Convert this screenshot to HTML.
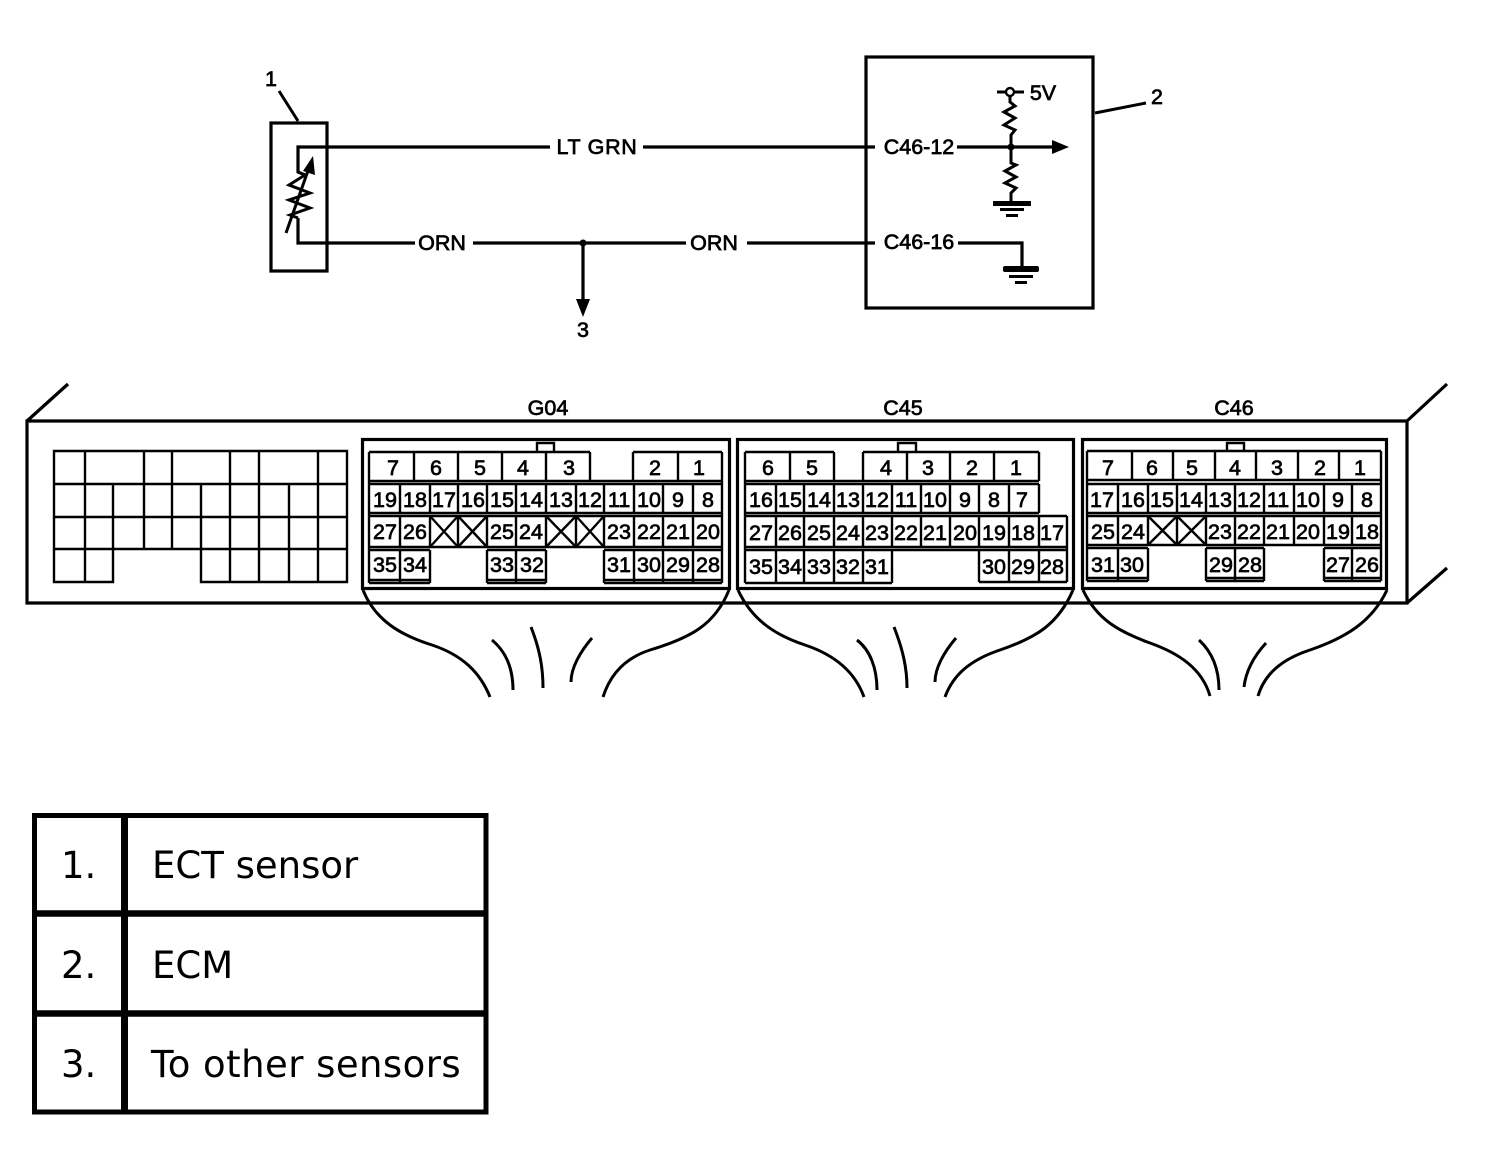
<!DOCTYPE html>
<html><head><meta charset="utf-8"><style>
html,body{margin:0;padding:0;background:#fff}
svg{display:block}
.t{font-family:"Liberation Sans",sans-serif;font-size:21.5px;fill:#000;stroke:#000;stroke-width:.7;text-anchor:middle}
.l{font-family:"DejaVu Sans",sans-serif;font-size:37px;fill:#000}
.s{fill:none;stroke:#000;stroke-width:3.2}
.c{fill:none;stroke:#000;stroke-width:2.4}
.w{fill:none;stroke:#000;stroke-width:3}
</style></head><body>
<svg width="1504" height="1176" viewBox="0 0 1504 1176" xmlns="http://www.w3.org/2000/svg">
<!-- schematic -->
<rect class="s" x="271" y="123" width="56" height="148"/>
<rect class="s" x="866" y="57" width="227" height="251"/>
<path class="w" d="M279 91L298 121M1095 113L1146 103"/>
<path class="s" d="M550 147H298V172L305 175M643 147H875M415 243H298V218M473 243H686M747 243H875M583 243V302M957 147H1055M958 243H1022V268"/>
<path class="w" d="M286 233L310 165M305 175L289 185L310 193L289 200L310 208L290 215L298 218"/>
<path d="M313 156L303 171L315 175Z" fill="#000"/>
<circle cx="583" cy="243" r="3.5" fill="#000"/>
<path d="M576 299H590L583 317Z" fill="#000"/>
<path class="w" d="M997 92H1024M1010 97V102L1015 106L1004 112L1015 118L1004 125L1015 130L1011 135V147M1011 147V163L1016 165L1005 171L1016 177L1005 183L1016 188L1011 193V202"/>
<circle cx="1010" cy="92" r="4" fill="#fff" stroke="#000" stroke-width="2.4"/>
<circle cx="1011" cy="147" r="3.5" fill="#000"/>
<path d="M1052 140L1069 147L1052 154Z" fill="#000"/>
<rect x="993" y="201" width="38" height="5" fill="#000"/><rect x="1000" y="208" width="24" height="3" fill="#000"/><rect x="1006" y="214" width="12" height="3" fill="#000"/>
<rect x="1003" y="266" width="36" height="6" rx="2" fill="#000"/><rect x="1009" y="275" width="24" height="3" fill="#000"/><rect x="1015" y="281" width="12" height="3" fill="#000"/>
<text class="t" x="271" y="86">1</text><text class="t" x="1157" y="104">2</text><text class="t" x="583" y="337">3</text>
<text class="t" x="597" y="154" style="letter-spacing:.7px">LT GRN</text><text class="t" x="442" y="250">ORN</text><text class="t" x="714" y="250">ORN</text>
<text class="t" x="919" y="154">C46-12</text><text class="t" x="919" y="249">C46-16</text><text class="t" x="1043" y="100">5V</text>
<!-- housing -->
<path class="s" d="M27 603V421H1407V603ZM27 421L68 384M1407 421L1447 384M1407 603L1447 568"/>
<path class="c" d="M54 451H347V582H201V549H113V582H54ZM54 484H347M54 517H347M54 549H347M85 451V582M113 484V582M144 451V549M172 451V549M201 484V582M230 451V582M259 451V582M289 484V582M318 451V582"/>
<text class="t" x="548" y="415">G04</text><text class="t" x="903" y="415">C45</text><text class="t" x="1234" y="415">C46</text>
<rect class="s" x="362.500" y="439.500" width="367" height="149"/>
<rect class="s" x="737.500" y="439.500" width="336" height="149"/>
<rect class="s" x="1082.500" y="439.500" width="304" height="149"/>
<!-- G04 -->
<path class="c" d="M537 452V443H554V452"/>
<path class="c" d="M369 452H590M633 452H722M369 481H722M369 484H722M369 513H722M369 516H722M369 547H722M369 550H430M487 550H546M604 550H722M369 580H430M369 583H430M487 580H546M487 583H546M604 580H722M604 583H722"/>
<path class="c" d="M369 452V583M414 452V481M458 452V481M502 452V481M546 452V481M590 452V481M633 452V481M678 452V481M722 452V583M400 484V513M430 484V513M458 484V513M487 484V513M516 484V513M546 484V513M576 484V513M604 484V513M634 484V513M663 484V513M693 484V513M400 516V547M430 516V547M458 516V547M487 516V547M516 516V547M546 516V547M576 516V547M604 516V547M634 516V547M663 516V547M693 516V547M400 550V583M430 550V583M487 550V583M516 550V583M546 550V583M604 550V583M634 550V583M663 550V583M693 550V583"/>
<path class="c" d="M430 516L458 547M458 516L430 547M458 516L487 547M487 516L458 547M546 516L576 547M576 516L546 547M576 516L604 547M604 516L576 547"/>
<g class="t"><text class="t" x="393" y="475">7</text><text class="t" x="436" y="475">6</text><text class="t" x="480" y="475">5</text><text class="t" x="523" y="475">4</text><text class="t" x="569" y="475">3</text><text class="t" x="655" y="475">2</text><text class="t" x="699" y="475">1</text>
<text class="t" x="385" y="507">19</text><text class="t" x="415" y="507">18</text><text class="t" x="444" y="507">17</text><text class="t" x="473" y="507">16</text><text class="t" x="502" y="507">15</text><text class="t" x="531" y="507">14</text><text class="t" x="561" y="507">13</text><text class="t" x="590" y="507">12</text><text class="t" x="619" y="507">11</text><text class="t" x="649" y="507">10</text><text class="t" x="678" y="507">9</text><text class="t" x="708" y="507">8</text>
<text class="t" x="385" y="539">27</text><text class="t" x="415" y="539">26</text><text class="t" x="502" y="539">25</text><text class="t" x="531" y="539">24</text><text class="t" x="619" y="539">23</text><text class="t" x="649" y="539">22</text><text class="t" x="678" y="539">21</text><text class="t" x="708" y="539">20</text>
<text class="t" x="385" y="572">35</text><text class="t" x="415" y="572">34</text><text class="t" x="502" y="572">33</text><text class="t" x="532" y="572">32</text><text class="t" x="619" y="572">31</text><text class="t" x="649" y="572">30</text><text class="t" x="678" y="572">29</text><text class="t" x="708" y="572">28</text></g>
<!-- C45 -->
<path class="c" d="M898 452V443H916V452"/>
<path class="c" d="M745 452H834M863 452H1039M745 481H1039M745 484H1039M745 513H1039M745 516H1067M745 547H1067M745 550H1067M745 583H892M979 582H1067"/>
<path class="c" d="M745 452V583M790 452V481M834 452V481M863 452V481M907 452V481M950 452V481M994 452V481M1039 452V481M776 484V513M804 484V513M834 484V513M863 484V513M892 484V513M921 484V513M950 484V513M979 484V513M1009 484V513M1039 484V513M776 516V547M804 516V547M834 516V547M863 516V547M892 516V547M921 516V547M950 516V547M979 516V547M1009 516V547M1039 516V547M1067 516V582M776 550V583M804 550V583M834 550V583M863 550V583M892 550V583M979 550V582M1009 550V582M1039 550V582"/>
<text class="t" x="768" y="475">6</text><text class="t" x="812" y="475">5</text><text class="t" x="886" y="475">4</text><text class="t" x="928" y="475">3</text><text class="t" x="972" y="475">2</text><text class="t" x="1016" y="475">1</text>
<text class="t" x="761" y="507">16</text><text class="t" x="790" y="507">15</text><text class="t" x="819" y="507">14</text><text class="t" x="848" y="507">13</text><text class="t" x="877" y="507">12</text><text class="t" x="906" y="507">11</text><text class="t" x="935" y="507">10</text><text class="t" x="965" y="507">9</text><text class="t" x="994" y="507">8</text><text class="t" x="1022" y="507">7</text>
<text class="t" x="761" y="540">27</text><text class="t" x="790" y="540">26</text><text class="t" x="819" y="540">25</text><text class="t" x="848" y="540">24</text><text class="t" x="877" y="540">23</text><text class="t" x="906" y="540">22</text><text class="t" x="935" y="540">21</text><text class="t" x="965" y="540">20</text><text class="t" x="994" y="540">19</text><text class="t" x="1023" y="540">18</text><text class="t" x="1052" y="540">17</text>
<text class="t" x="761" y="574">35</text><text class="t" x="790" y="574">34</text><text class="t" x="819" y="574">33</text><text class="t" x="848" y="574">32</text><text class="t" x="877" y="574">31</text><text class="t" x="994" y="574">30</text><text class="t" x="1023" y="574">29</text><text class="t" x="1052" y="574">28</text>
<!-- C46 -->
<path class="c" d="M1227 451V443H1244V451"/>
<path class="c" d="M1087 451H1381M1087 480H1381M1087 484H1381M1087 513H1381M1087 516H1381M1087 545H1381M1087 548H1148M1206 548H1264M1324 548H1381M1087 578H1148M1087 581H1148M1206 578H1264M1206 581H1264M1324 578H1381M1324 581H1381"/>
<path class="c" d="M1087 451V581M1132 451V480M1173 451V480M1215 451V480M1256 451V480M1298 451V480M1339 451V480M1381 451V581M1118 484V513M1148 484V513M1177 484V513M1206 484V513M1235 484V513M1264 484V513M1294 484V513M1324 484V513M1352 484V513M1118 516V545M1148 516V545M1177 516V545M1206 516V545M1235 516V545M1264 516V545M1294 516V545M1324 516V545M1352 516V545M1118 548V581M1148 548V581M1206 548V581M1235 548V581M1264 548V581M1324 548V581M1352 548V581"/>
<path class="c" d="M1148 516L1177 545M1177 516L1148 545M1177 516L1206 545M1206 516L1177 545"/>
<text class="t" x="1108" y="475">7</text><text class="t" x="1152" y="475">6</text><text class="t" x="1192" y="475">5</text><text class="t" x="1235" y="475">4</text><text class="t" x="1277" y="475">3</text><text class="t" x="1320" y="475">2</text><text class="t" x="1360" y="475">1</text>
<text class="t" x="1102" y="507">17</text><text class="t" x="1133" y="507">16</text><text class="t" x="1162" y="507">15</text><text class="t" x="1191" y="507">14</text><text class="t" x="1220" y="507">13</text><text class="t" x="1249" y="507">12</text><text class="t" x="1278" y="507">11</text><text class="t" x="1308" y="507">10</text><text class="t" x="1338" y="507">9</text><text class="t" x="1367" y="507">8</text>
<text class="t" x="1103" y="539">25</text><text class="t" x="1133" y="539">24</text><text class="t" x="1220" y="539">23</text><text class="t" x="1249" y="539">22</text><text class="t" x="1278" y="539">21</text><text class="t" x="1308" y="539">20</text><text class="t" x="1338" y="539">19</text><text class="t" x="1367" y="539">18</text>
<text class="t" x="1103" y="572">31</text><text class="t" x="1132" y="572">30</text><text class="t" x="1221" y="572">29</text><text class="t" x="1250" y="572">28</text><text class="t" x="1338" y="572">27</text><text class="t" x="1367" y="572">26</text>
<!-- harness -->
<path class="w" d="M363 590C375 620 400 635 432 645C462 655 480 672 490 697M729 590C715 625 690 638 650 650C625 658 610 675 603 697M492 640C504 650 513 665 513 690M531 627C540 650 543 668 543 688M592 638C580 652 571 668 571 682"/>
<path class="w" d="M738 590C752 620 775 635 805 645C835 655 855 672 864 697M1073 590C1058 625 1035 638 1000 650C970 660 953 675 945 697M857 640C870 650 877 668 877 690M894 627C903 650 907 668 907 688M956 638C944 652 935 668 935 682"/>
<path class="w" d="M1083 590C1097 620 1120 632 1150 643C1178 653 1202 668 1210 696M1387 590C1372 622 1345 638 1310 650C1285 658 1265 672 1258 696M1199 640C1212 652 1219 668 1219 690M1266 643C1255 655 1246 670 1244 687"/>
<!-- legend -->
<g fill="none" stroke="#000"><rect x="34.500" y="815.500" width="451.500" height="296.500" stroke-width="5"/><path d="M124.500 815V1112" stroke-width="7"/><path d="M34 913.500H486M34 1013.500H486" stroke-width="6.500"/></g>
<text class="l" x="61" y="878">1.</text><text class="l" x="61" y="978">2.</text><text class="l" x="61" y="1077">3.</text>
<text class="l" x="152" y="878">ECT sensor</text><text class="l" x="152" y="978">ECM</text><text class="l" x="151" y="1077" style="letter-spacing:.45px">To other sensors</text>
</svg>
</body></html>
